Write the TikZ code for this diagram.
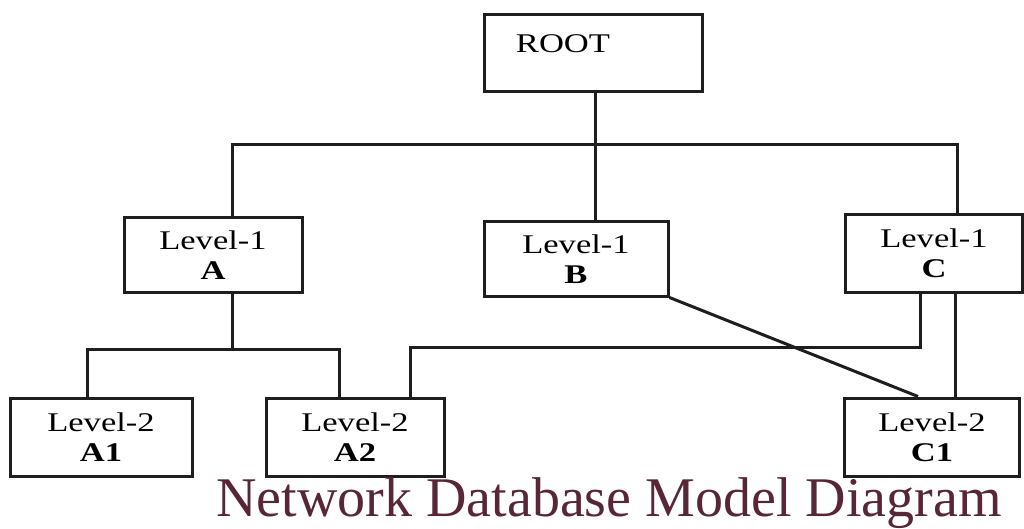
\documentclass[tikz,border=0pt]{standalone}
\usepackage{graphicx}
\usepackage{fontspec}
\setmainfont{Liberation Serif}
\definecolor{titlecol}{RGB}{88,38,55}
\definecolor{linecol}{RGB}{30,30,30}
\newcommand{\widetxt}[1]{\scalebox{1.28}[1]{#1}}
\begin{document}
\begin{tikzpicture}[x=1pt,y=-1pt,
  box/.style={draw=linecol,line width=3pt,rectangle,inner sep=0pt,align=center,
    font=\fontsize{27}{30}\selectfont},
  conn/.style={draw=linecol,line width=3pt}]
\useasboundingbox (0,0) rectangle (1024,529);
\fill[white] (0,0) rectangle (1024,529);
% boxes
\node[box,minimum width=218pt,minimum height=77pt] (root) at (593,53.5) {};
\node[font=\fontsize{27}{30}\selectfont,inner sep=0pt] (roottext) at (563,44) {\widetxt{ROOT}};
\node[box,minimum width=178pt,minimum height=74pt] (A) at (213,255) {\widetxt{Level-1}\\\widetxt{\textbf{A}}};
\node[box,minimum width=184pt,minimum height=74pt] (B) at (576,259) {\widetxt{Level-1}\\\widetxt{\textbf{B}}};
\node[box,minimum width=177pt,minimum height=77pt] (C) at (934,253.5) {\widetxt{Level-1}\\\widetxt{\textbf{C}}};
\node[box,minimum width=182pt,minimum height=78pt] (A1) at (101,437) {\widetxt{Level-2}\\\widetxt{\textbf{A1}}};
\node[box,minimum width=178pt,minimum height=78pt] (A2) at (355,437) {\widetxt{Level-2}\\\widetxt{\textbf{A2}}};
\node[box,minimum width=175pt,minimum height=78pt] (C1) at (932,437) {\widetxt{Level-2}\\\widetxt{\textbf{C1}}};
% connectors
\coordinate (bus) at (595,145);
\coordinate (abus) at (232,349);
\coordinate (cbus) at (920,347);
\draw[conn] (root.south -| bus) -- (bus);
\draw[conn] ([xshift=19pt]A.north) |- (bus) -| ([xshift=23pt]C.north);
\draw[conn] (bus) -- (bus |- B.north);
\draw[conn] ([xshift=19pt]A.south) -- (abus);
\draw[conn] ([xshift=-14pt]A1.north) |- (abus) -| ([xshift=-16pt]A2.north);
\draw[conn] ([xshift=-14pt]C.south) -- (cbus) -| ([xshift=55pt]A2.north);
\draw[conn] ([xshift=21pt]C.south) -- ([xshift=21pt]C.south |- C1.north);
\draw[conn] (B.south east) -- ([xshift=-14pt]C1.north);
% title
\node[font=\fontsize{56}{60}\selectfont,text=titlecol,anchor=base,inner sep=0pt] (title) at (609,516) {Network Database Model Diagram};
\end{tikzpicture}
\end{document}
